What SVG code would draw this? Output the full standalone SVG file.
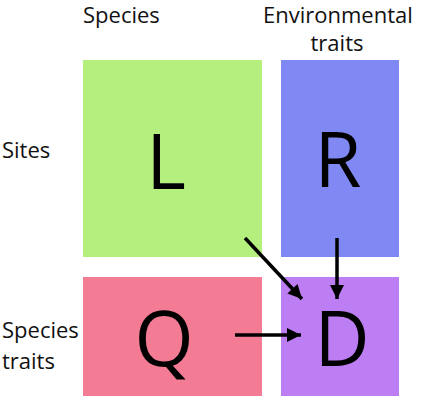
<svg xmlns="http://www.w3.org/2000/svg" width="422" height="413" viewBox="0 0 422 413">
<style>
.lbl{font-family:"Open Sans","Noto Sans",sans-serif;font-size:22px;fill:#111}
.big{font-family:"Open Sans","Noto Sans",sans-serif;font-size:76px;fill:#000;text-anchor:middle}
.arr{stroke:#000;stroke-width:3.5;fill:none;marker-end:url(#ah)}
</style>
<defs>
<marker id="ah" viewBox="0 0 10 10" refX="10" refY="5" markerWidth="4.2" markerHeight="4" orient="auto" markerUnits="strokeWidth">
<path d="M0,0 L10,5 L0,10 Z" fill="#000"/>
</marker>
</defs>
<rect width="422" height="413" fill="#fff"/>
<g id="labels">
<text class="lbl" x="83" y="23">Species</text>
<text class="lbl" x="263" y="23">Environmental</text>
<text class="lbl" x="337" y="51" text-anchor="middle">traits</text>
<text class="lbl" x="2" y="158">Sites</text>
<text class="lbl" x="2" y="338">Species</text>
<text class="lbl" x="2" y="369">traits</text>
</g>
<g id="L"><rect x="83" y="60" width="179" height="197" fill="#b5f07f"/><text class="big" x="166" y="189">L</text></g>
<g id="R"><rect x="281" y="60" width="118" height="197" fill="#7f88f3"/><text class="big" x="338" y="187">R</text></g>
<g id="Q"><rect x="83" y="277" width="179" height="119" fill="#f47b94"/><text class="big" x="164" y="366">Q</text></g>
<g id="D"><rect x="281" y="277" width="118" height="119" fill="#bc7ef2"/><text class="big" x="342" y="366">D</text></g>
<g id="connectors">
<line class="arr" x1="245" y1="238" x2="302" y2="299"/>
<line class="arr" x1="337" y1="238" x2="337" y2="299"/>
<line class="arr" x1="235" y1="335" x2="301" y2="335"/>
</g>
</svg>
